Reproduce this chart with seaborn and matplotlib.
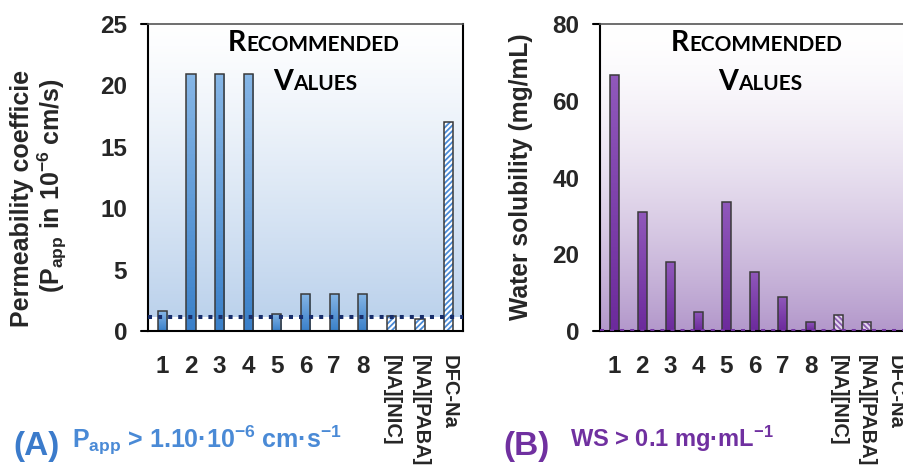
import numpy as np
import pandas as pd
import matplotlib
matplotlib.use("Agg")
import matplotlib.pyplot as plt
import seaborn as sns
from matplotlib.colors import LinearSegmentedColormap, to_rgb

# ---------------- data ----------------
categories = ["1", "2", "3", "4", "5", "6", "7", "8", "[NA][NIC]", "[NA][PABA]", "DFC-Na"]
hatched = ["[NA][NIC]", "[NA][PABA]", "DFC-Na"]
papp_values = [1.6, 20.9, 20.9, 20.9, 1.4, 3.05, 3.05, 3.05, 1.25, 0.95, 17.0]
ws_values = [66.7, 31.1, 17.9, 5.0, 33.6, 15.4, 8.9, 2.4, 4.2, 2.4, 0.0]
papp_threshold = 1.1
ws_threshold = 0.1
papp_ticks = [0, 5, 10, 15, 20, 25]
ws_ticks = [0, 20, 40, 60, 80]

# ---------------- style ----------------
sns.set_style("white")
plt.rcParams["font.family"] = ["Liberation Sans", "DejaVu Sans"]
plt.rcParams["font.weight"] = "bold"
plt.rcParams["mathtext.fontset"] = "custom"
plt.rcParams["mathtext.rm"] = "Liberation Sans:bold"
plt.rcParams["mathtext.it"] = "Liberation Sans:bold"
plt.rcParams["mathtext.bf"] = "Liberation Sans:bold"
plt.rcParams["mathtext.default"] = "rm"
plt.rcParams["hatch.linewidth"] = 1.3

W, H = 904, 465
fig = plt.figure(figsize=(W / 100, H / 100), dpi=100)
axA = fig.add_axes([148 / W, 134 / H, 315 / W, 307 / H])
axB = fig.add_axes([600 / W, 134 / H, 309 / W, 307 / H])


def panel(ax, values, ymax, ticks, thr, bar_top, bar_bot, bg_color, bg_power,
          bg_floor, hatch, hatch_bg, hatch_fg, line_color):
    df = pd.DataFrame({"cat": categories, "val": values})
    sns.barplot(data=df, x="cat", y="val", order=categories, ax=ax, width=0.32,
                color=bar_bot, saturation=1, edgecolor="none", linewidth=0, zorder=2)
    bar_cmap = LinearSegmentedColormap.from_list("bar", [bar_bot, bar_top])
    for cat, p in zip(categories, list(ax.patches)):
        if cat in hatched:
            p.set_facecolor(hatch_bg)
            p.set_hatch(hatch)
            p.set_edgecolor(hatch_fg)
            p.set_linewidth(0)
        else:
            x0, w, h = p.get_x(), p.get_width(), p.get_height()
            if h <= 0:
                continue
            im = ax.imshow(np.linspace(0, 1, 64).reshape(-1, 1), cmap=bar_cmap,
                           origin="lower", aspect="auto",
                           extent=[x0, x0 + w, 0, h], zorder=2.5)
            im.set_clip_path(p)
    sns.barplot(data=df, x="cat", y="val", order=categories, ax=ax, width=0.32,
                fill=False, color="#3a3a3a", linewidth=1.1, zorder=3)

    # background gradient
    y = np.linspace(0, 1, 256)
    f = (1 - y) ** bg_power
    c = np.array(to_rgb(bg_color))
    img = (1 - f)[:, None] * np.ones(3)[None, :] + f[:, None] * c[None, :]
    ax.imshow(img[:, None, :], origin="lower", aspect="auto",
              extent=[-0.5, 10.5, bg_floor, ymax], zorder=0.5)

    ax.axhline(thr, color=line_color, lw=2.9, linestyle=(0, (1, 1.5)), zorder=6)

    ax.set_xlim(-0.5, 10.5)
    ax.set_ylim(0, ymax)
    ax.set_yticks(ticks)
    ax.set_xlabel("")
    ax.set_ylabel("")
    ax.tick_params(axis="y", length=0, pad=15, labelsize=17.5)
    ax.tick_params(axis="x", length=0, pad=17, labelsize=17.5)
    for lab in ax.get_xticklabels():
        if lab.get_text() in hatched:
            lab.set_rotation(-90)
            lab.set_fontsize(14.5)
            lab.set_verticalalignment("top")
            lab.set_horizontalalignment("center")
    for s in ax.spines.values():
        s.set_visible(True)
        s.set_color("black")
        s.set_linewidth(1.5)
        s.set_zorder(5)
    ax.spines["top"].set_color("#555555")
    ax.spines["top"].set_linewidth(1.2)
    for yy in (0, 1):
        ax.plot([-0.022, 0], [yy, yy], transform=ax.transAxes, color="black",
                lw=1.5, clip_on=False, zorder=5)


panel(axA, papp_values, 25, papp_ticks, papp_threshold,
      bar_top="#86b6e6", bar_bot="#3a80c9", bg_color="#bcd2ec", bg_power=1.2,
      bg_floor=papp_threshold, hatch="//////", hatch_bg="white",
      hatch_fg="#4a8ad6", line_color="#172d6b")
panel(axB, ws_values, 80, ws_ticks, ws_threshold,
      bar_top="#9058bb", bar_bot="#6c2a9c", bg_color="#b398cb", bg_power=1.6,
      bg_floor=0, hatch="\\\\\\\\\\\\", hatch_bg="#e4d6ee",
      hatch_fg="#8a5cb0", line_color="#7030a0")

# ---------------- small caps headings ----------------
renderer = fig.canvas.get_renderer()


def smallcaps(word, xc_px, base_px, big=20.5, small=15):
    parts = [(word[0].upper(), big), (word[1:].upper(), small)]
    texts = []
    widths = []
    for s, size in parts:
        t = fig.text(0, 1 - base_px / H, s, fontsize=size, family=["Lato", "DejaVu Sans"],
                     weight="bold", color="black", ha="left", va="baseline", zorder=10)
        texts.append(t)
        widths.append(t.get_window_extent(renderer).width)
    x = xc_px - sum(widths) / 2
    for t, w in zip(texts, widths):
        t.set_x(x / W)
        x += w + 0.5


smallcaps("Recommended", 313, 51)
smallcaps("Values", 315, 90)
smallcaps("Recommended", 756, 51)
smallcaps("Values", 760, 90)

# ---------------- axis labels ----------------
fig.text(22 / W, 1 - 198 / H, "Permeability coefficie", rotation=90, fontsize=18,
         ha="center", va="center", weight="bold")
fig.text(52 / W, 1 - 186 / H, r"(P$_{app}$ in 10$^{-6}$ cm/s)", rotation=90, fontsize=18,
         ha="center", va="center", weight="bold")
fig.text(521 / W, 1 - 177 / H, "Water solubility (mg/mL)", rotation=90, fontsize=17.7,
         ha="center", va="center", weight="bold")

# ---------------- panel captions ----------------
fig.text(13 / W, 1 - 455 / H, "(A)", fontsize=24, color="#3b7bcb", weight="bold",
         ha="left", va="baseline")
fig.text(72 / W, 1 - 448 / H, r"P$_{app}$ > 1.10·10$^{-6}$ cm·s$^{-1}$", fontsize=18,
         color="#4a8ad6", weight="bold", ha="left", va="baseline")
fig.text(503 / W, 1 - 455 / H, "(B)", fontsize=24, color="#7030a0", weight="bold",
         ha="left", va="baseline")
fig.text(570 / W, 1 - 447 / H, r"WS > 0.1 mg·mL$^{-1}$", fontsize=17,
         color="#7030a0", weight="bold", ha="left", va="baseline")

fig.savefig("out.png", dpi=100)
